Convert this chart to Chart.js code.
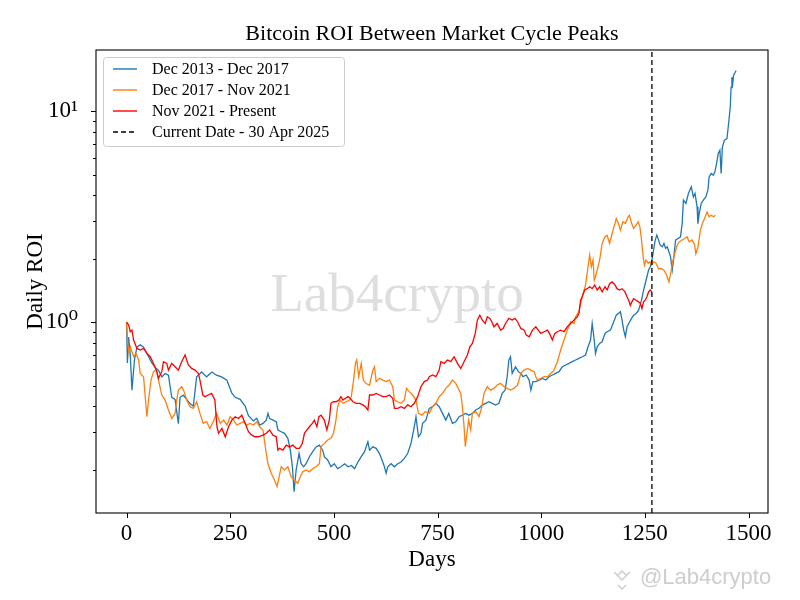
<!DOCTYPE html>
<html><head><meta charset="utf-8">
<script src="https://cdn.jsdelivr.net/npm/chart.js@4.4.1/dist/chart.umd.min.js"></script>
<style>html,body{margin:0;padding:0;background:#fff}canvas{display:block}</style>
</head><body>
<canvas id="c" width="800" height="600" style="width:800px;height:600px"></canvas>
<script>
// ---------------- DATA ----------------
const blueDays=[0,2,5,9,13,19,25,33,41,49,61,69,77,85,93,101,109,117,125,129,137,145,153,161,169,181,193,206,217,229,242,254,262,274,286,294,306,314,321,329,337,341,345,353,361,365,373,381,389,395,400,404,409,416,421,427,433,441,449,457,465,473,477,485,493,501,509,517,526,534,542,550,558,566,574,582,586,594,602,610,616,622,626,630,638,646,654,662,670,678,686,694,698,704,710,714,722,730,738,746,754,762,770,777,780,786,794,802,810,818,826,834,842,850,858,866,874,882,890,898,906,913,918,922,926,930,934,938,945,951,956,964,971,975,980,987,995,1003,1011,1019,1027,1035,1043,1051,1059,1067,1075,1083,1091,1099,1107,1113,1119,1123,1127,1131,1135,1141,1147,1154,1159,1167,1175,1181,1186,1191,1195,1199,1203,1207,1211,1218,1223,1229,1235,1242,1247,1251,1255,1259,1263,1267,1271,1275,1279,1283,1287,1292,1296,1300,1304,1308,1312,1316,1320,1324,1330,1336,1340,1343,1349,1355,1362,1367,1371,1376,1378,1381,1386,1391,1397,1402,1405,1410,1415,1419,1423,1427,1431,1434,1437,1442,1448,1452,1456,1458,1460,1462,1464,1468,1470];
const blueROI=[1.0,0.64,0.85,0.70,0.475,0.66,0.76,0.78,0.76,0.71,0.64,0.61,0.59,0.55,0.57,0.56,0.44,0.43,0.33,0.44,0.45,0.43,0.41,0.40,0.55,0.58,0.55,0.58,0.56,0.55,0.53,0.46,0.44,0.43,0.40,0.36,0.34,0.35,0.325,0.331,0.343,0.369,0.349,0.343,0.337,0.308,0.302,0.297,0.281,0.247,0.206,0.157,0.199,0.238,0.213,0.206,0.213,0.230,0.243,0.256,0.261,0.247,0.230,0.222,0.206,0.213,0.202,0.206,0.213,0.206,0.209,0.202,0.217,0.230,0.243,0.271,0.247,0.256,0.252,0.238,0.222,0.206,0.192,0.206,0.213,0.206,0.213,0.217,0.226,0.238,0.266,0.319,0.356,0.286,0.297,0.331,0.343,0.39,0.397,0.412,0.397,0.369,0.343,0.369,0.356,0.331,0.337,0.356,0.362,0.369,0.362,0.369,0.383,0.390,0.404,0.412,0.419,0.412,0.404,0.412,0.459,0.476,0.551,0.661,0.685,0.571,0.592,0.614,0.582,0.571,0.551,0.561,0.531,0.476,0.522,0.522,0.531,0.541,0.531,0.551,0.561,0.571,0.582,0.614,0.626,0.637,0.649,0.661,0.673,0.685,0.698,0.764,0.822,0.985,0.852,0.710,0.764,0.792,0.807,0.884,0.900,0.916,1.004,1.079,1.099,1.119,1.022,0.916,0.852,0.950,0.985,1.041,1.079,1.099,1.140,1.271,1.418,1.524,1.640,1.764,1.829,1.967,2.194,2.447,2.583,2.447,2.316,2.275,2.359,2.236,2.275,2.154,2.039,1.764,2.039,2.447,2.492,2.538,2.935,3.79,3.65,4.07,4.38,3.92,4.07,3.52,2.93,3.27,3.65,3.79,3.92,4.22,4.88,5.06,4.97,5.16,5.65,6.30,6.53,5.06,6.77,7.29,7.42,8.74,10.5,13.0,14.5,13.5,14.8,15.3,15.6];

const orangeDays=[0,3,6,9,17,23,29,33,41,45,49,53,59,65,72,77,85,93,101,109,117,121,125,133,139,145,153,161,169,177,185,193,201,209,217,226,234,242,250,258,266,274,282,290,298,306,314,321,329,337,341,349,357,363,368,373,381,389,397,405,413,419,425,433,441,449,457,465,469,477,485,493,499,505,509,515,522,530,538,542,547,552,555,560,566,571,578,586,594,598,602,610,618,626,634,642,646,654,662,670,675,682,690,698,704,712,720,730,738,746,754,762,770,778,786,794,802,806,810,814,817,821,825,830,834,842,850,857,862,870,878,886,894,902,910,918,926,934,943,951,959,967,975,983,987,991,999,1007,1015,1023,1031,1039,1047,1055,1063,1071,1079,1083,1091,1099,1107,1113,1117,1121,1125,1128,1131,1135,1141,1147,1154,1159,1165,1171,1178,1181,1186,1191,1197,1203,1210,1213,1218,1223,1229,1234,1238,1242,1246,1249,1253,1258,1262,1266,1271,1277,1283,1290,1296,1301,1308,1313,1317,1322,1328,1333,1340,1346,1352,1357,1364,1370,1373,1378,1384,1389,1394,1400,1405,1410,1416,1420];
const orangeROI=[1.0,0.792,0.710,0.764,0.685,0.710,0.661,0.571,0.551,0.443,0.356,0.427,0.531,0.582,0.592,0.531,0.451,0.427,0.383,0.349,0.369,0.427,0.476,0.494,0.468,0.427,0.397,0.390,0.419,0.369,0.331,0.337,0.313,0.337,0.369,0.331,0.343,0.325,0.356,0.343,0.325,0.331,0.337,0.325,0.331,0.325,0.337,0.319,0.308,0.238,0.213,0.192,0.178,0.166,0.185,0.206,0.199,0.206,0.185,0.178,0.172,0.185,0.195,0.199,0.195,0.202,0.206,0.213,0.256,0.266,0.276,0.281,0.297,0.343,0.397,0.427,0.412,0.419,0.427,0.443,0.522,0.637,0.661,0.551,0.637,0.531,0.511,0.502,0.592,0.614,0.522,0.541,0.531,0.522,0.531,0.494,0.427,0.419,0.412,0.427,0.485,0.468,0.451,0.427,0.369,0.362,0.376,0.369,0.397,0.412,0.443,0.459,0.485,0.503,0.531,0.512,0.476,0.459,0.397,0.319,0.257,0.297,0.343,0.308,0.369,0.376,0.356,0.397,0.459,0.494,0.476,0.485,0.503,0.512,0.494,0.485,0.476,0.485,0.503,0.571,0.592,0.603,0.592,0.582,0.551,0.531,0.541,0.551,0.551,0.571,0.592,0.649,0.737,0.822,0.916,1.004,0.985,1.06,1.12,1.32,1.5,1.83,2.08,1.83,1.97,1.58,1.64,1.76,1.97,2.36,2.54,2.58,2.36,2.63,2.94,3.10,2.94,2.73,2.99,2.94,3.16,3.21,2.94,2.78,2.88,2.99,2.83,2.45,2.04,1.86,1.97,1.90,1.93,1.86,1.93,1.90,1.79,1.79,1.76,1.70,1.55,1.73,1.93,2.11,2.32,2.40,2.45,2.49,2.54,2.40,2.45,2.32,2.11,2.27,2.73,2.94,3.10,3.33,3.16,3.21,3.16,3.21];

const redDays=[0,5,9,13,17,25,33,41,49,57,65,73,77,85,89,97,101,109,117,125,133,141,149,157,165,173,177,184,189,197,205,213,218,222,230,238,246,254,262,270,278,286,294,302,310,318,329,337,345,353,361,365,369,377,385,393,401,409,417,424,429,435,441,448,453,459,464,469,477,483,489,493,499,505,512,517,522,528,534,539,546,554,562,570,576,582,586,594,602,610,618,626,634,642,646,654,662,670,678,686,694,702,710,718,726,730,738,746,754,758,766,774,782,790,798,806,814,822,828,834,841,846,852,858,865,870,876,881,886,894,902,908,914,922,930,937,943,951,959,964,971,979,987,993,999,1007,1015,1020,1027,1033,1039,1047,1055,1063,1071,1079,1087,1091,1095,1099,1105,1111,1117,1123,1129,1135,1141,1147,1154,1159,1165,1171,1178,1183,1189,1195,1202,1207,1211,1215,1219,1223,1229,1234,1239,1243,1247,1251,1255,1259,1263,1267];
const redROI=[1.0,0.968,0.900,0.916,0.822,0.750,0.737,0.750,0.710,0.685,0.637,0.582,0.541,0.582,0.649,0.637,0.592,0.637,0.614,0.592,0.649,0.698,0.626,0.603,0.592,0.571,0.531,0.451,0.443,0.451,0.459,0.427,0.319,0.297,0.313,0.286,0.319,0.343,0.356,0.349,0.362,0.331,0.302,0.291,0.286,0.286,0.291,0.297,0.308,0.291,0.286,0.247,0.252,0.247,0.261,0.256,0.261,0.252,0.252,0.266,0.297,0.308,0.319,0.331,0.343,0.319,0.356,0.362,0.343,0.308,0.343,0.412,0.419,0.419,0.427,0.443,0.427,0.435,0.443,0.435,0.419,0.412,0.412,0.405,0.397,0.383,0.451,0.451,0.459,0.451,0.443,0.443,0.451,0.435,0.390,0.390,0.397,0.390,0.405,0.397,0.412,0.443,0.494,0.522,0.531,0.551,0.561,0.551,0.592,0.649,0.637,0.661,0.649,0.685,0.637,0.603,0.649,0.698,0.764,0.792,0.884,1.022,1.079,1.022,0.985,1.06,1.04,1.004,0.950,0.985,0.916,0.933,0.985,1.041,1.022,1.041,1.004,0.933,0.916,0.868,0.852,0.916,0.950,0.916,0.884,0.900,0.916,0.884,0.822,0.884,0.900,0.916,0.900,0.950,0.985,1.022,1.06,1.10,1.27,1.32,1.42,1.44,1.47,1.44,1.50,1.42,1.47,1.39,1.47,1.42,1.52,1.55,1.50,1.44,1.42,1.44,1.39,1.32,1.27,1.20,1.25,1.29,1.27,1.25,1.23,1.16,1.25,1.27,1.32,1.39,1.42,1.39];

const seriesLabels=['Dec 2013 - Dec 2017','Dec 2017 - Nov 2021','Nov 2021 - Present','Current Date - 30 Apr 2025'];
const currentDay=1267;
const xTickValues=[0,250,500,750,1000,1250,1500];
const yMajorTicks=[1,10];
const yMinorTicks=[0.2,0.3,0.4,0.5,0.6,0.7,0.8,0.9,2,3,4,5,6,7,8,9];
const xRange=[-73.7,1547];
const yRange=[0.1244,19.5];

// ---------------- STYLE ----------------
const SERIF='"Liberation Serif","DejaVu Serif",serif';
const BLUE='#1f77b4', ORANGE='#ff7f0e', RED='#ff0000';
function pts(d,v){return d.map((x,i)=>({x:x,y:v[i]}));}

const deco={
  id:'deco',
  beforeDraw(chart){
    const c=chart.ctx; c.save(); c.fillStyle='#fff'; c.fillRect(0,0,chart.width,chart.height); c.restore();
  },
  afterDraw(chart){
    const c=chart.ctx, a=chart.chartArea, xs=chart.scales.x, ys=chart.scales.y;
    c.save();
    // watermark
    c.fillStyle='rgba(190,190,190,0.5)';
    c.font='55px '+SERIF; c.textAlign='center'; c.textBaseline='middle';
    c.fillText('Lab4crypto',397,297);
    // frame
    c.strokeStyle='#000'; c.lineWidth=1.1;
    c.strokeRect(a.left,a.top,a.right-a.left,a.bottom-a.top);
    // tick marks
    c.lineWidth=1;
    xs.ticks.forEach(t=>{const p=Math.round(xs.getPixelForValue(t.value))+0.5;c.beginPath();c.moveTo(p,a.bottom);c.lineTo(p,a.bottom+5);c.stroke();});
    ys.ticks.forEach(t=>{const p=Math.round(ys.getPixelForValue(t.value))+0.5;const L=yMajorTicks.includes(t.value)?5:3;c.beginPath();c.moveTo(a.left,p);c.lineTo(a.left-L,p);c.stroke();});
    // title & axis titles
    c.fillStyle='#000'; c.textAlign='center'; c.textBaseline='middle';
    c.font='22px '+SERIF; c.fillText('Bitcoin ROI Between Market Cycle Peaks',(a.left+a.right)/2,34);
    c.font='23px '+SERIF; c.fillText('Days',(a.left+a.right)/2,560);
    c.save(); c.translate(36,(a.top+a.bottom)/2); c.rotate(-Math.PI/2); c.fillText('Daily ROI',0,0); c.restore();
    // legend
    const lx=103.5, ly=57.5, lw=241, lh=89;
    c.fillStyle='rgba(255,255,255,0.85)'; c.strokeStyle='#cccccc'; c.lineWidth=1;
    c.beginPath(); if(c.roundRect){c.roundRect(lx,ly,lw,lh,3);}else{c.rect(lx,ly,lw,lh);} c.fill(); c.stroke();
    const cols=[BLUE,ORANGE,RED,'#000'];
    c.font='16px '+SERIF; c.textAlign='left'; c.textBaseline='middle';
    seriesLabels.forEach((lab,i)=>{
      const yy=69+i*21;
      c.strokeStyle=cols[i]; c.lineWidth=1.4; c.setLineDash(i===3?[5,3]:[]);
      c.beginPath(); c.moveTo(113,yy); c.lineTo(137,yy); c.stroke(); c.setLineDash([]);
      c.fillStyle='#000'; c.fillText(lab,152,yy+1);
    });
    // bottom-right mark
    c.font='22px "Liberation Sans","DejaVu Sans",sans-serif'; c.textAlign='left';
    c.fillStyle='rgba(200,200,200,0.9)';
    c.fillText('@Lab4crypto',640,578);
    c.strokeStyle='rgba(200,200,200,0.9)'; c.lineWidth=1.5;
    c.beginPath(); c.moveTo(614,572); c.lineTo(622,580); c.lineTo(630,572); c.moveTo(617,576); c.lineTo(622,571); c.lineTo(627,576); c.moveTo(618,585); c.lineTo(622,589); c.lineTo(626,585); c.stroke();
    c.restore();
  }
};

new Chart(document.getElementById('c'),{
  type:'line',
  data:{datasets:[
    {label:seriesLabels[0],data:pts(blueDays,blueROI),borderColor:BLUE,borderWidth:1.3,pointRadius:0,tension:0,order:3},
    {label:seriesLabels[1],data:pts(orangeDays,orangeROI),borderColor:ORANGE,borderWidth:1.3,pointRadius:0,tension:0,order:2},
    {label:seriesLabels[2],data:pts(redDays,redROI),borderColor:RED,borderWidth:1.3,pointRadius:0,tension:0,order:1},
    {label:seriesLabels[3],data:[{x:currentDay,y:yRange[0]},{x:currentDay,y:yRange[1]}],borderColor:'#000',borderWidth:1.3,borderDash:[5,3],pointRadius:0,order:0}
  ]},
  options:{
    responsive:false, animation:false, devicePixelRatio:1,
    layout:{padding:{top:50,right:32,left:0,bottom:0}},
    plugins:{legend:{display:false},tooltip:{enabled:false},title:{display:false}},
    scales:{
      x:{type:'linear',min:xRange[0],max:xRange[1],
        afterBuildTicks:s=>{s.ticks=xTickValues.map(v=>({value:v}));},
        afterFit:s=>{s.height=87;},
        grid:{display:false},border:{display:false},
        ticks:{autoSkip:false,maxRotation:0,minRotation:0,padding:-1,color:'#000',font:{family:SERIF,size:23},callback:v=>String(v)}},
      y:{type:'logarithmic',min:yRange[0],max:yRange[1],
        afterBuildTicks:s=>{s.ticks=yMinorTicks.concat(yMajorTicks).sort((p,q)=>p-q).map(v=>({value:v}));},
        afterFit:s=>{s.width=96;},
        grid:{display:false},border:{display:false},
        ticks:{autoSkip:false,padding:10,color:'#000',font:{family:SERIF,size:23},
          callback:v=>v===1?'10\u2070':(v===10?'10\u00B9':'')}}
    }
  },
  plugins:[deco]
});
</script>
</body></html>
